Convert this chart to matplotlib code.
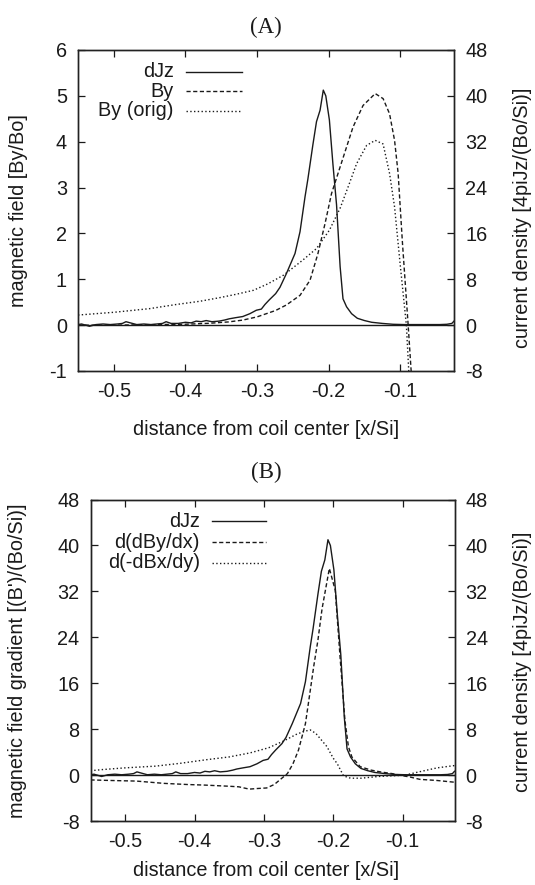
import matplotlib
matplotlib.use('Agg')
import matplotlib.pyplot as plt
from matplotlib.lines import Line2D

# ---------------- data ----------------
# current density dJz (same curve in both panels), units 4piJz/(Bo/Si)
djz_x = [-0.550, -0.545, -0.534, -0.525, -0.515, -0.505, -0.495, -0.488, -0.483, -0.477,
         -0.468, -0.458, -0.448, -0.440, -0.432, -0.427, -0.420, -0.410, -0.400, -0.392,
         -0.385, -0.378, -0.371, -0.363, -0.353, -0.345, -0.339, -0.330, -0.320, -0.310,
         -0.301, -0.294, -0.289, -0.283, -0.274, -0.268, -0.259, -0.247, -0.240, -0.233,
         -0.229, -0.222, -0.217, -0.212, -0.2075, -0.204, -0.199, -0.194, -0.189, -0.184,
         -0.180, -0.175, -0.168, -0.160, -0.150, -0.140, -0.125, -0.110, -0.095, -0.080,
         -0.060, -0.045, -0.035, -0.028, -0.025]
djz_y = [0.1, 0.2, -0.2, 0.1, 0.2, 0.1, 0.2, 0.3, 0.6, 0.4,
         0.1, 0.2, 0.1, 0.2, 0.3, 0.6, 0.3, 0.3, 0.5, 0.4,
         0.7, 0.6, 0.8, 0.6, 0.7, 0.9, 1.1, 1.3, 1.5, 2.0,
         2.6, 2.8, 3.6, 4.4, 5.5, 6.6, 9.0, 12.5, 16.3, 22.4,
         25.5, 31.5, 35.5, 37.5, 41.0, 40.0, 35.8, 28.0, 21.0, 10.2,
         4.6, 3.2, 2.0, 1.2, 0.8, 0.5, 0.3, 0.15, 0.1, 0.1,
         0.1, 0.1, 0.15, 0.3, 0.7]

# Panel A: magnetic field By/Bo
by_x = [-0.550, -0.500, -0.450, -0.400, -0.367, -0.340, -0.320, -0.300, -0.274, -0.259,
        -0.240, -0.226, -0.215, -0.205, -0.196, -0.184, -0.166, -0.152, -0.135, -0.124,
        -0.115, -0.108, -0.103, -0.100, -0.097, -0.089, -0.084]
by_y = [0.00, 0.00, 0.01, 0.02, 0.04, 0.07, 0.11, 0.18, 0.32, 0.44,
        0.65, 0.98, 1.56, 2.22, 2.87, 3.45, 4.32, 4.79, 5.05, 4.94,
        4.61, 4.03, 3.31, 2.55, 1.80, 0.00, -1.20]

byo_x = [-0.550, -0.500, -0.450, -0.413, -0.380, -0.352, -0.330, -0.305, -0.285, -0.263,
         -0.236, -0.217, -0.199, -0.184, -0.172, -0.161, -0.147, -0.135, -0.124, -0.115,
         -0.108, -0.100, -0.0915, -0.0875]
byo_y = [0.22, 0.28, 0.36, 0.45, 0.52, 0.60, 0.67, 0.76, 0.90, 1.09,
         1.42, 1.67, 2.07, 2.55, 3.05, 3.52, 3.92, 4.03, 3.95, 3.31,
         2.58, 1.30, 0.00, -1.20]

# Panel B: gradients [(B')/(Bo/Si)]
dby_x = [-0.550, -0.520, -0.484, -0.444, -0.410, -0.385, -0.350, -0.336, -0.321, -0.310,
         -0.296, -0.285, -0.277, -0.266, -0.258, -0.250, -0.240, -0.233, -0.228, -0.222,
         -0.216, -0.2055, -0.197, -0.190, -0.183, -0.178, -0.173, -0.161, -0.145, -0.132,
         -0.115, -0.103, -0.089, -0.075, -0.050, -0.025]
dby_y = [-0.8, -0.9, -1.0, -1.4, -1.6, -1.7, -1.9, -2.0, -2.4, -2.3,
         -2.2, -1.6, -0.8, 0.3, 2.0, 4.4, 9.0, 14.8, 19.0, 23.5,
         29.0, 36.0, 32.2, 20.5, 9.5, 5.0, 3.2, 1.5, 0.9, 0.6,
         0.3, 0.0, -0.3, -0.7, -0.9, -1.2]

dbx_x = [-0.550, -0.533, -0.500, -0.456, -0.420, -0.384, -0.350, -0.320, -0.293, -0.271,
         -0.252, -0.240, -0.233, -0.225, -0.209, -0.200, -0.194, -0.185, -0.175, -0.160,
         -0.151, -0.135, -0.118, -0.100, -0.094, -0.080, -0.065, -0.050, -0.025]
dbx_y = [0.8, 1.0, 1.3, 1.6, 2.1, 2.7, 3.2, 3.9, 4.8, 6.0,
         7.2, 7.7, 7.9, 7.3, 5.0, 3.0, 2.0, -0.1, -0.5, -0.5,
         -0.4, -0.2, -0.1, 0.0, 0.1, 0.5, 0.9, 1.3, 1.7]

xticks = [-0.5, -0.4, -0.3, -0.2, -0.1]
xticklabels = ['-0.5', '-0.4', '-0.3', '-0.2', '-0.1']
A_left_ticks = [-1, 0, 1, 2, 3, 4, 5, 6]
cur_ticks = [-8, 0, 8, 16, 24, 32, 40, 48]

# ---------------- layout ----------------
W, H = 535, 885
FS = 14.3
SANS = 'Liberation Sans'
INK = '#1a1a1a'
LW = 1.0
DASH = (0, (3.0, 1.8))
DOT = (0, (1.0, 1.7))

plt.rcParams['font.family'] = [SANS, 'DejaVu Sans']
plt.rcParams['axes.unicode_minus'] = False
fig = plt.figure(figsize=(W / 100, H / 100), dpi=100)


def rect(l, r, t, b):
    return [l / W, 1 - b / H, (r - l) / W, (b - t) / H]


def style(ax, twin, ylim_l, yt_l, ylim_r, yt_r):
    ax.set_xlim(-0.55, -0.025)
    ax.set_xticks(xticks)
    ax.set_xticklabels(xticklabels)
    ax.set_ylim(*ylim_l)
    ax.set_yticks(yt_l)
    ax.set_yticklabels([str(v) for v in yt_l])
    twin.set_ylim(*ylim_r)
    twin.set_yticks(yt_r)
    twin.set_yticklabels([str(v) for v in yt_r])
    for a in (ax, twin):
        for s in a.spines.values():
            s.set_linewidth(1.0)
            s.set_color('#222222')
    ax.tick_params(axis='x', direction='in', length=5, width=0.9, top=True, bottom=True,
                   labelsize=FS, pad=8, colors=INK)
    ax.tick_params(axis='y', direction='in', length=5, width=0.9, left=True, right=False,
                   labelsize=FS, pad=8, colors=INK)
    twin.tick_params(axis='y', direction='in', length=5, width=0.9, right=True, left=False,
                     labelsize=FS, pad=8, colors=INK)
    ax.axhline(0, color=INK, lw=1.0, zorder=1)


def legend(ax, entries, tx, lx0, lx1, rows):
    for (label, ls), ry in zip(entries, rows):
        ax.text(tx, ry, label, transform=ax.transAxes, ha='right', va='center',
                fontsize=FS, color=INK)
        ax.add_line(Line2D([lx0, lx1], [ry, ry], transform=ax.transAxes, color=INK,
                           lw=LW, linestyle=ls, clip_on=False))


# Panel A
axA = fig.add_axes(rect(78, 454, 50, 371))
axA2 = axA.twinx()
style(axA, axA2, (-1, 6), A_left_ticks, (-8, 48), cur_ticks)
axA2.plot(djz_x, djz_y, color=INK, lw=LW, linestyle='-')
axA.plot(by_x, by_y, color=INK, lw=LW, linestyle=DASH)
axA.plot(byo_x, byo_y, color=INK, lw=LW, linestyle=DOT)
legend(axA, [('dJz', '-'), ('By', DASH), ('By (orig)', DOT)],
       (174 - 78) / 376, (186 - 78) / 376, (242 - 78) / 376,
       [(371 - 71.7) / 321, (371 - 91.5) / 321, (371 - 111.0) / 321])

# Panel B
axB = fig.add_axes(rect(90.5, 454.5, 499.5, 821.3))
axB2 = axB.twinx()
style(axB, axB2, (-8, 48), cur_ticks, (-8, 48), cur_ticks)
axB.plot(djz_x, djz_y, color=INK, lw=LW, linestyle='-')
axB.plot(dby_x, dby_y, color=INK, lw=LW, linestyle=DASH)
axB.plot(dbx_x, dbx_y, color=INK, lw=LW, linestyle=DOT)
legend(axB, [('dJz', '-'), ('d(dBy/dx)', DASH), ('d(-dBx/dy)', DOT)],
       (200 - 90.5) / 364, (211.6 - 90.5) / 364, (266 - 90.5) / 364,
       [(821.3 - 521.2) / 321.8, (821.3 - 542.4) / 321.8, (821.3 - 562.9) / 321.8])


def ftext(x, y, s, **kw):
    fig.text(x / W, 1 - y / H, s, ha='center', va='center', color=INK, **kw)


ftext(266, 27, '(A)', fontsize=16.5, family=['Liberation Serif', 'DejaVu Serif'])
ftext(266, 472, '(B)', fontsize=16.5, family=['Liberation Serif', 'DejaVu Serif'])
ftext(266, 430, 'distance from coil center [x/Si]', fontsize=FS)
ftext(266, 870, 'distance from coil center [x/Si]', fontsize=FS)
ftext(19, 211, 'magnetic field [By/Bo]', fontsize=FS, rotation=90)
ftext(18, 661, "magnetic field gradient [(B')/(Bo/Si)]", fontsize=FS, rotation=90)
ftext(523, 218, 'current density [4piJz/(Bo/Si)]', fontsize=FS, rotation=90)
ftext(523, 662, 'current density [4piJz/(Bo/Si)]', fontsize=FS, rotation=90)

fig.savefig('out.png', dpi=100)
